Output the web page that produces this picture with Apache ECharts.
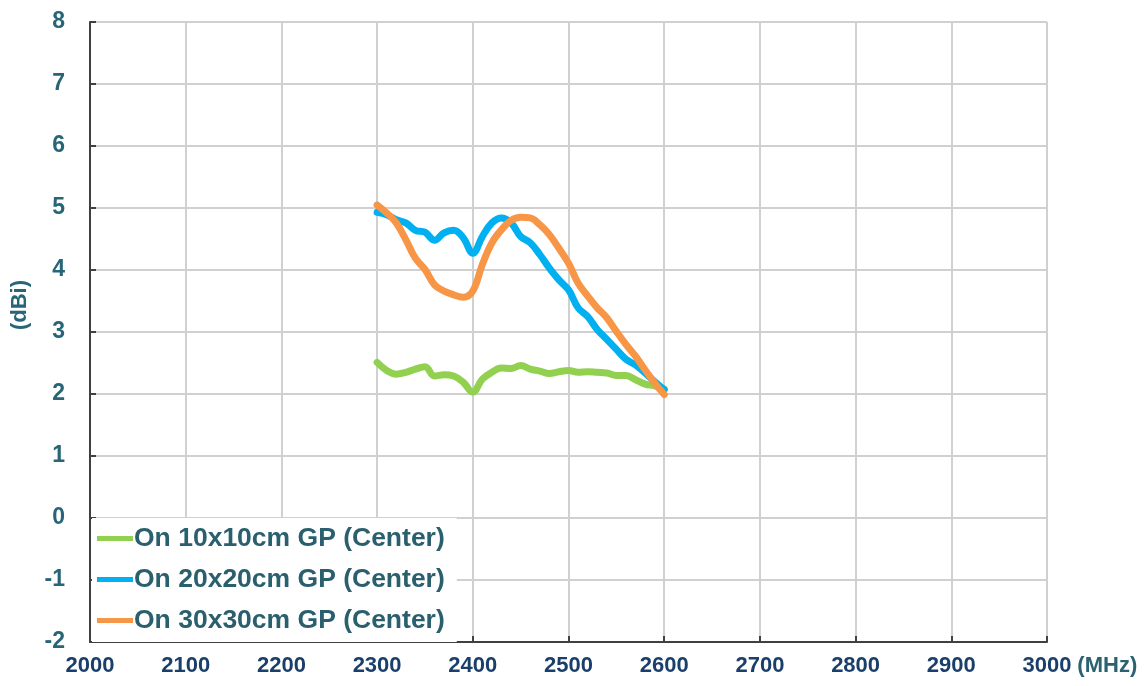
<!DOCTYPE html>
<html>
<head>
<meta charset="utf-8">
<script src="https://cdn.jsdelivr.net/npm/echarts@6/dist/echarts.min.js"></script>
<style>html,body{margin:0;padding:0;background:#fff}#c{width:1148px;height:686px}</style>
</head>
<body>
<div id="c"></div>
<script>
var freqs = [2300,2310,2320,2330,2340,2350,2360,2370,2380,2390,2400,2410,2420,2430,2440,2450,2460,2470,2480,2490,2500,2510,2520,2530,2540,2550,2560,2570,2580,2590,2600];
var gp10 = [2.51,2.38,2.32,2.35,2.40,2.44,2.29,2.31,2.29,2.19,2.03,2.24,2.35,2.42,2.41,2.46,2.40,2.37,2.33,2.36,2.38,2.35,2.36,2.35,2.34,2.30,2.30,2.23,2.16,2.13,2.08];
var gp20 = [4.93,4.89,4.81,4.76,4.64,4.61,4.48,4.60,4.64,4.52,4.27,4.54,4.76,4.84,4.76,4.54,4.44,4.25,4.03,3.84,3.68,3.39,3.25,3.04,2.88,2.72,2.56,2.47,2.34,2.20,2.07];
var gp30 = [5.05,4.92,4.76,4.49,4.19,4.01,3.76,3.66,3.60,3.56,3.66,4.09,4.44,4.65,4.80,4.85,4.84,4.73,4.57,4.35,4.11,3.79,3.58,3.39,3.23,3.01,2.80,2.61,2.39,2.18,1.99];
var names = ['On 10x10cm GP (Center)','On 20x20cm GP (Center)','On 30x30cm GP (Center)'];
var colors = ['#92d050','#00b0f0','#f79646'];
var xTicks = [2000,2100,2200,2300,2400,2500,2600,2700,2800,2900,3000];
var yTicks = [-2,-1,0,1,2,3,4,5,6,7,8];

function pairs(v){ return freqs.map(function(f,i){ return [f, v[i]]; }); }
var font = '"Liberation Sans", Arial, sans-serif';
var chart = echarts.init(document.getElementById('c'));
chart.setOption({
  animation: false,
  grid: {left: 90, right: 101, top: 22, bottom: 44, containLabel: false},
  xAxis: {
    type: 'value', min: xTicks[0], max: xTicks[xTicks.length-1], interval: 100,
    name: '(MHz)', nameLocation: 'end', nameGap: 27,
    nameTextStyle: {color: '#2a6272', fontFamily: font, fontWeight: 'bold', fontSize: 22, verticalAlign: 'top', padding: [13,0,0,0]},
    axisLine: {show: true, onZero: false, lineStyle: {color: '#404040', width: 2}},
    axisTick: {show: true, inside: true, length: 6, lineStyle: {color: '#404040', width: 2}},
    axisLabel: {color: '#1b3f6b', fontFamily: font, fontWeight: 'bold', fontSize: 22, margin: 13,
      formatter: function(v){ return String(v); }},
    splitLine: {show: true, lineStyle: {color: '#d0d0d0', width: 2}}
  },
  yAxis: {
    type: 'value', min: yTicks[0], max: yTicks[yTicks.length-1], interval: 1,
    axisLine: {show: true, onZero: false, lineStyle: {color: '#404040', width: 2}},
    axisTick: {show: true, inside: true, length: 6, lineStyle: {color: '#404040', width: 2}},
    axisLabel: {color: '#276577', fontFamily: font, fontWeight: 'bold', fontSize: 23, margin: 25},
    splitLine: {show: true, lineStyle: {color: '#d0d0d0', width: 2}}
  },
  graphic: [{
    type: 'text', left: 9, top: 280,
    style: {text: '(dBi)', fill: '#276577', font: 'bold 22px ' + font},
    rotation: Math.PI/2, originX: 0, originY: 0
  }],
  legend: {
    orient: 'vertical', left: 92, top: 518,
    padding: [7, 12, 8, 5],
    backgroundColor: '#ffffff',
    itemWidth: 36, itemHeight: 14, itemGap: 14,
    icon: 'path://M0,4.5 L36,4.5 L36,9.5 L0,9.5 Z',
    textStyle: {color: '#2a5f6e', fontFamily: font, fontWeight: 'bold', fontSize: 26.5, padding: [0,0,0,-4]},
    data: names
  },
  series: [gp10, gp20, gp30].map(function(v, i){
    return {
      name: names[i], type: 'line', data: pairs(v), smooth: 0.4, symbol: 'none',
      lineStyle: {color: colors[i], width: 7, cap: 'round', join: 'round'}, itemStyle: {color: colors[i]}
    };
  })
});
</script>
</body>
</html>
